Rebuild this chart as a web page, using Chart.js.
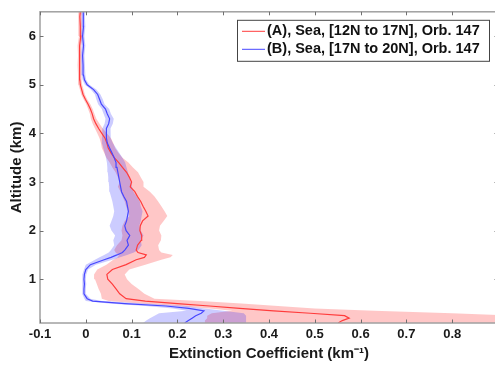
<!DOCTYPE html>
<html><head><meta charset="utf-8">
<style>html,body{margin:0;padding:0;background:#fff;overflow:hidden;width:495px;height:372px}canvas{display:block}</style>
<script src="https://cdn.jsdelivr.net/npm/chart.js@4/dist/chart.umd.min.js"></script>
</head><body><canvas id="c" width="500" height="372"></canvas>
<script>
const altitudes = [0.10,0.15,0.20,0.25,0.30,0.35,0.40,0.45,0.50,0.55,0.60,
  0.70,0.80,0.90,1.00,1.10,1.20,1.30,1.40,
  1.45,1.50,1.55,
  1.60,1.70,1.80,1.90,2.00,2.10,2.20,2.30,2.40,2.50,2.60,2.70,2.80,2.90,3.00,3.10,3.20,3.30,3.40,3.50,3.60,3.70,3.80,3.90,4.00,4.10,4.20,4.30,4.40,4.50,4.60,4.70,4.80,4.90,5.00,5.10,5.20,
  5.40,5.60,5.80,6.00,6.20,6.40,6.50];

const redMean = [0.551,0.560,0.575,0.565,0.490,0.410,0.336,0.270,0.200,0.130,0.088,
  0.074,0.066,0.058,0.048,0.046,0.058,0.088,0.110,
  0.128,0.132,0.114,
  0.110,0.113,0.121,0.122,0.118,0.119,0.124,0.136,0.131,0.125,0.120,0.113,0.107,0.097,0.100,0.095,0.089,0.080,0.072,0.062,0.055,0.049,0.046,0.042,0.035,0.028,0.022,0.017,0.014,0.010,0.005,-0.001,-0.006,-0.009,-0.012,-0.013,-0.013,
  -0.014,-0.013,-0.014,-0.011,-0.012,-0.013,-0.012];
const redLow = [0.26,0.26,0.265,0.265,0.275,0.32,0.27,0.20,0.12,0.05,0.035,
  0.033,0.028,0.024,0.020,0.018,0.025,0.045,0.060,
  0.070,0.072,0.065,
  0.062,0.068,0.078,0.080,0.078,0.080,0.085,0.095,0.092,0.088,0.085,0.080,0.076,0.070,0.074,0.070,0.065,0.058,0.052,0.045,0.040,0.035,0.033,0.030,0.025,0.020,0.015,0.011,0.009,0.005,0.001,-0.005,-0.010,-0.013,-0.016,-0.017,-0.017,
  -0.018,-0.017,-0.018,-0.015,-0.016,-0.017,-0.016];
const redHigh = [1.20,1.15,1.08,0.95,0.80,0.63,0.50,0.42,0.34,0.25,0.15,
  0.128,0.115,0.100,0.090,0.085,0.095,0.130,0.165,
  0.185,0.190,0.165,
  0.160,0.158,0.164,0.165,0.160,0.162,0.170,0.178,0.172,0.165,0.158,0.150,0.140,0.126,0.126,0.120,0.114,0.103,0.093,0.080,0.071,0.064,0.060,0.055,0.046,0.037,0.030,0.023,0.019,0.015,0.010,0.003,-0.002,-0.005,-0.008,-0.009,-0.009,
  -0.010,-0.009,-0.010,-0.007,-0.008,-0.009,-0.008];

const blueMean = [0.216,0.224,0.232,0.240,0.252,0.258,0.225,0.175,0.085,0.015,0.003,
  -0.004,-0.004,-0.003,-0.004,-0.003,0.000,0.010,0.040,
  0.055,0.068,0.080,
  0.085,0.093,0.090,0.096,0.088,0.085,0.089,0.091,0.093,0.091,0.089,0.083,0.078,0.076,0.074,0.072,0.070,0.068,0.066,0.062,0.057,0.052,0.047,0.045,0.045,0.045,0.050,0.052,0.047,0.043,0.034,0.030,0.026,0.017,0.003,-0.003,-0.005,
  -0.006,-0.007,-0.005,-0.007,-0.005,-0.006,-0.005];
const blueLow = [0.125,0.132,0.140,0.150,0.160,0.220,0.190,0.130,0.050,0.000,-0.003,
  -0.008,-0.008,-0.007,-0.008,-0.007,-0.004,0.000,0.020,
  0.030,0.040,0.050,
  0.055,0.062,0.060,0.064,0.056,0.052,0.056,0.060,0.062,0.060,0.058,0.055,0.052,0.051,0.050,0.049,0.048,0.047,0.046,0.044,0.041,0.038,0.035,0.035,0.036,0.036,0.041,0.043,0.039,0.035,0.027,0.023,0.020,0.011,-0.002,-0.007,-0.009,
  -0.010,-0.011,-0.009,-0.011,-0.009,-0.010,-0.009];
const blueHigh = [0.350,0.350,0.350,0.350,0.345,0.300,0.260,0.220,0.130,0.035,0.010,
  0.000,0.000,0.001,0.000,0.001,0.005,0.022,0.058,
  0.075,0.090,0.105,
  0.115,0.122,0.120,0.126,0.120,0.117,0.120,0.122,0.124,0.120,0.118,0.111,0.104,0.101,0.098,0.095,0.092,0.089,0.086,0.080,0.073,0.066,0.059,0.055,0.054,0.054,0.059,0.061,0.055,0.051,0.041,0.037,0.032,0.023,0.008,0.001,-0.001,
  -0.002,-0.003,-0.001,-0.003,-0.001,-0.002,-0.001];

const xTicks = [-0.1,0,0.1,0.2,0.3,0.4,0.5,0.6,0.7,0.8];
const yTicks = [1,2,3,4,5,6];
const seriesLabels = ['(A), Sea, [12N to 17N], Orb. 147', '(B), Sea, [17N to 20N], Orb. 147'];

const RED = 'rgb(255,60,60)';
const BLUE = 'rgb(70,70,255)';
const FONT = "'Liberation Sans', Arial, sans-serif";

function profile(vals) { return altitudes.map((a, i) => ({x: vals[i], y: a})); }
function band(lo, hi) {
  const pts = altitudes.map((a, i) => ({x: lo[i], y: a}));
  for (let i = altitudes.length - 1; i >= 0; i--) pts.push({x: hi[i], y: altitudes[i]});
  return pts;
}

const framePlugin = {
  id: 'frame',
  afterDatasetsDraw(chart) {
    const {ctx, chartArea: a, scales: {x, y}} = chart;
    ctx.save();
    ctx.strokeStyle = '#a0a0a0'; ctx.lineWidth = 1.5;
    ctx.strokeRect(a.left, a.top, a.right - a.left, a.bottom - a.top);
    ctx.strokeStyle = '#707070'; ctx.lineWidth = 1;
    const L = 3.5;
    ctx.beginPath();
    x.ticks.forEach(t => {
      const px = Math.round(x.getPixelForValue(t.value)) + 0.5;
      ctx.moveTo(px, a.bottom); ctx.lineTo(px, a.bottom - L);
      ctx.moveTo(px, a.top); ctx.lineTo(px, a.top + L);
    });
    y.ticks.forEach(t => {
      const py = Math.round(y.getPixelForValue(t.value)) + 0.5;
      ctx.moveTo(a.left, py); ctx.lineTo(a.left + L, py);
      ctx.moveTo(a.right, py); ctx.lineTo(a.right - L, py);
    });
    ctx.stroke();
    ctx.restore();
  }
};

const legendPlugin = {
  id: 'boxLegend',
  afterDraw(chart) {
    const {ctx, chartArea: a} = chart;
    const items = chart.data.datasets.filter(d => d.inLegend);
    const right = a.right - 9, left = right - 252, top = a.top + 8, rowH = 18;
    const bottom = top + 10 + rowH * items.length - 5;
    ctx.save();
    ctx.fillStyle = '#fff';
    ctx.fillRect(left, top, right - left, bottom - top);
    ctx.strokeStyle = '#444'; ctx.lineWidth = 1;
    ctx.strokeRect(left + 0.5, top + 0.5, right - left, bottom - top);
    ctx.font = 'bold 14.5px ' + FONT;
    ctx.textBaseline = 'middle';
    items.forEach((d, i) => {
      const yy = top + 11.5 + i * rowH;
      ctx.strokeStyle = d.borderColor; ctx.lineWidth = 1;
      ctx.beginPath(); ctx.moveTo(left + 5, yy); ctx.lineTo(left + 28, yy); ctx.stroke();
      ctx.fillStyle = '#111';
      ctx.fillText(d.label, left + 30, yy);
    });
    ctx.restore();
  }
};

new Chart(document.getElementById('c'), {
  type: 'scatter',
  data: {
    datasets: [
      {label: seriesLabels[0] + ' range', data: band(redLow, redHigh), showLine: true, fill: 'shape',
       backgroundColor: 'rgba(255,0,0,0.22)', borderWidth: 0, borderColor: 'rgba(0,0,0,0)', pointRadius: 0, order: 4},
      {label: seriesLabels[1] + ' range', data: band(blueLow, blueHigh), showLine: true, fill: 'shape',
       backgroundColor: 'rgba(0,0,255,0.2)', borderWidth: 0, borderColor: 'rgba(0,0,0,0)', pointRadius: 0, order: 3},
      {label: seriesLabels[0], inLegend: true, data: profile(redMean), showLine: true, fill: false,
       borderColor: RED, borderWidth: 1.2, pointRadius: 0, order: 2},
      {label: seriesLabels[1], inLegend: true, data: profile(blueMean), showLine: true, fill: false,
       borderColor: BLUE, borderWidth: 1.2, pointRadius: 0, order: 1}
    ]
  },
  options: {
    responsive: false, animation: false, devicePixelRatio: 1,
    layout: {padding: {top: 8, right: 2, left: 0, bottom: 0}},
    plugins: {legend: {display: false}, tooltip: {enabled: false}},
    scales: {
      x: {
        type: 'linear', min: -0.1, max: 0.9,
        afterBuildTicks: s => { s.ticks = xTicks.map(v => ({value: v})); },
        afterFit: s => { s.height = 49; },
        grid: {display: false, drawTicks: false}, border: {display: false},
        ticks: {autoSkip: false, maxRotation: 0, padding: 4, color: '#1a1a1a',
          font: {family: FONT, size: 13, weight: 'bold'}, callback: v => String(v)},
        title: {display: true, text: 'Extinction Coefficient (km\u207B\u00B9)', color: '#1a1a1a',
          font: {family: FONT, size: 15, weight: 'bold'}, padding: {top: 0, bottom: 9}}
      },
      y: {
        type: 'linear', min: 0.1, max: 6.5,
        afterBuildTicks: s => { s.ticks = yTicks.map(v => ({value: v})); },
        afterFit: s => { s.width = 40; },
        grid: {display: false, drawTicks: false}, border: {display: false},
        ticks: {autoSkip: false, padding: 4, color: '#1a1a1a',
          font: {family: FONT, size: 13, weight: 'bold'}, callback: v => String(v)},
        title: {display: true, text: 'Altitude (km)', color: '#1a1a1a',
          font: {family: FONT, size: 15, weight: 'bold'}, padding: {top: 8, bottom: 0}}
      }
    }
  },
  plugins: [framePlugin, legendPlugin]
});
</script>
</body></html>
